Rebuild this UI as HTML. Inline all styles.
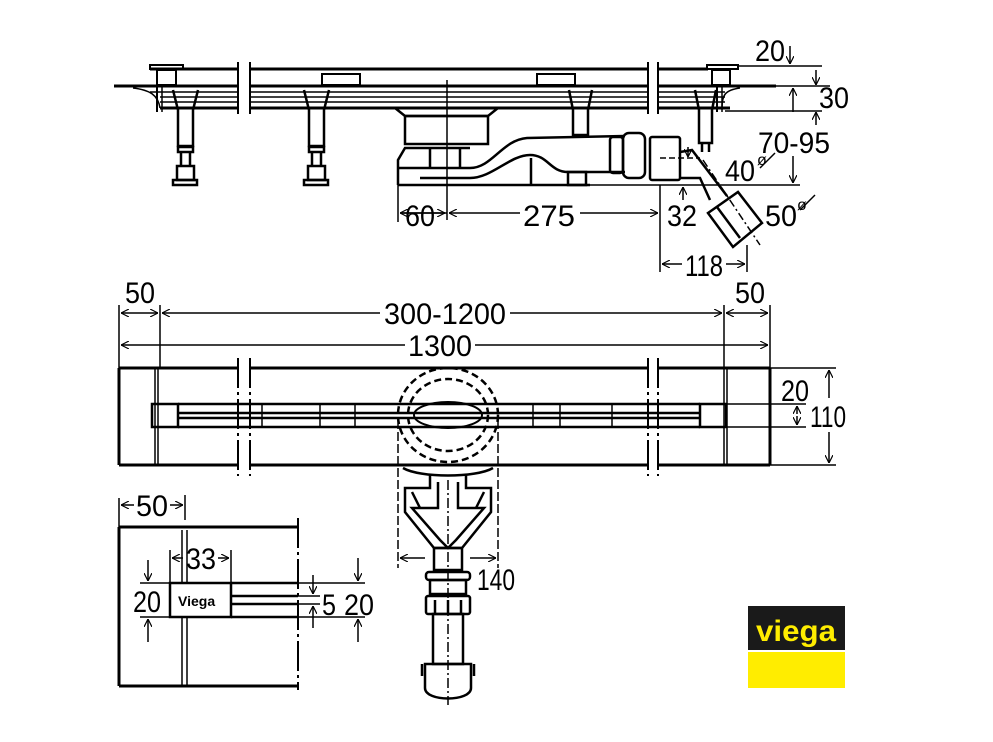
<!DOCTYPE html>
<html><head><meta charset="utf-8"><style>
html,body{margin:0;padding:0;background:#fff;}
svg{display:block;}
text{font-family:"Liberation Sans Narrow","Liberation Sans",sans-serif;font-size:30px;fill:#000;}
</style></head><body>
<svg width="993" height="742" viewBox="0 0 993 742" xmlns="http://www.w3.org/2000/svg">
<defs>
<marker id="a" viewBox="0 0 10 10" refX="10" refY="5" markerWidth="8" markerHeight="8" orient="auto-start-reverse" markerUnits="userSpaceOnUse">
<path d="M0,0 L10,5 L0,10" fill="none" stroke="#000" stroke-width="1.5"/></marker>
</defs>
<g fill="none" stroke="#000" stroke-width="1.5">
<!-- ===== TOP SIDE VIEW ===== -->
<g stroke-width="3">
<line x1="150" y1="69" x2="238" y2="69"/><line x1="250" y1="69" x2="648" y2="69"/><line x1="658" y1="69" x2="708" y2="69"/>
<line x1="114" y1="86" x2="238" y2="86"/><line x1="250" y1="86" x2="648" y2="86"/><line x1="658" y1="86" x2="776" y2="86"/>
<line x1="160" y1="108" x2="238" y2="108"/><line x1="250" y1="108" x2="648" y2="108"/><line x1="658" y1="108" x2="730" y2="108"/>
</g>
<line x1="150" y1="92" x2="238" y2="92"/><line x1="250" y1="92" x2="648" y2="92"/><line x1="658" y1="92" x2="725" y2="92"/>
<line x1="160" y1="97" x2="238" y2="97"/><line x1="250" y1="97" x2="648" y2="97"/><line x1="658" y1="97" x2="725" y2="97"/>
<line x1="160" y1="102" x2="238" y2="102"/><line x1="250" y1="102" x2="648" y2="102"/><line x1="658" y1="102" x2="725" y2="102"/>
<line x1="238" y1="62" x2="238" y2="114" stroke-width="2"/><line x1="250" y1="62" x2="250" y2="114" stroke-width="2"/>
<line x1="648" y1="62" x2="648" y2="114" stroke-width="2"/><line x1="658" y1="62" x2="658" y2="114" stroke-width="2"/>
<rect x="150" y="65" width="33" height="4" stroke-width="2"/><rect x="157" y="70" width="19" height="15" stroke-width="2"/>
<rect x="322" y="74" width="38" height="11" stroke-width="2"/>
<rect x="537" y="74" width="38" height="11" stroke-width="2"/>
<rect x="707" y="65" width="31" height="4" stroke-width="2"/><rect x="712" y="70" width="18" height="15" stroke-width="2"/>
<path d="M133,88 C150,90 158,95 160,108"/><path d="M740,88 C725,90 722,95 722,108"/>
<line x1="157" y1="86" x2="157" y2="112" stroke-width="2"/><line x1="162" y1="86" x2="162" y2="112"/>
<line x1="717" y1="86" x2="717" y2="112" stroke-width="2"/><line x1="722" y1="86" x2="722" y2="112"/>
<g stroke-width="2.5">
<path d="M173,90 L178,110 L178,146 L193,146 L193,110 L198,90"/><rect x="178" y="147" width="15" height="5"/><line x1="181" y1="152" x2="181" y2="166"/><line x1="190" y1="152" x2="190" y2="166"/><rect x="177" y="166" width="17" height="14"/><rect x="173" y="180" width="24" height="5"/>
<path d="M304,90 L309,110 L309,146 L324,146 L324,110 L329,90"/><rect x="309" y="147" width="15" height="5"/><line x1="312" y1="152" x2="312" y2="166"/><line x1="321" y1="152" x2="321" y2="166"/><rect x="308" y="166" width="17" height="14"/><rect x="304" y="180" width="24" height="5"/>
<path d="M569,90 L573,110 L573,135 L588,135 L588,110 L592,90"/>
<path d="M695,90 L699,110 L699,143 L712,143 L712,110 L716,90"/><line x1="702" y1="143" x2="702" y2="152"/><line x1="709" y1="143" x2="709" y2="152"/>
</g>
<g stroke-width="2.5">
<path d="M395,108 L405,116 L488,116 L498,108"/>
<rect x="405" y="116" width="83" height="28"/>
<path d="M398,185 L398,160 L405,148 L470,148"/>
<line x1="398" y1="185" x2="590" y2="185"/>
<path d="M398,168 L470,168 C492,168 502,140 527,138 L625,136"/>
<path d="M420,178 L470,178 C492,178 510,155 530,155 C548,155 550,172 568,172 L625,172"/>
<line x1="430" y1="148" x2="430" y2="168"/><line x1="460" y1="148" x2="460" y2="168"/><line x1="531" y1="158" x2="531" y2="185"/>
<rect x="568" y="172" width="18" height="13"/>
<rect x="610" y="137" width="13" height="36" rx="3"/>
<rect x="623" y="133" width="22" height="45" rx="6"/>
<rect x="650" y="137" width="30" height="43" rx="2"/>
<path d="M680,152 L692,150 L727,196"/><path d="M680,178 L700,178 L710,200"/>
<path d="M708,213 L738,192 L762,223 L733,247 Z"/>
<line x1="717" y1="207" x2="740" y2="238"/>
</g>
<line x1="447" y1="80" x2="447" y2="220"/>
<line x1="398" y1="185" x2="398" y2="222"/>
<line x1="660" y1="185" x2="660" y2="272"/>
<line x1="747" y1="245" x2="747" y2="272"/>
<line x1="660" y1="158" x2="700" y2="158" stroke-dasharray="6,3"/>
<line x1="703" y1="160" x2="760" y2="245" stroke-dasharray="8,3,2,3"/>
<line x1="738" y1="66" x2="822" y2="66"/><line x1="776" y1="86" x2="830" y2="86"/><line x1="725" y1="111" x2="822" y2="111"/>
<line x1="590" y1="185" x2="800" y2="185"/>
<line x1="790" y1="46" x2="790" y2="64" marker-end="url(#a)"/>
<line x1="816" y1="70" x2="816" y2="85" marker-end="url(#a)"/>
<line x1="816" y1="125" x2="816" y2="112" marker-end="url(#a)"/>
<line x1="793" y1="112" x2="793" y2="88" marker-end="url(#a)"/>
<line x1="793" y1="156" x2="793" y2="183" marker-end="url(#a)"/>
<line x1="683" y1="200" x2="683" y2="187" marker-end="url(#a)"/>
<line x1="688" y1="147" x2="688" y2="157" marker-end="url(#a)"/>
<line x1="760" y1="168" x2="775" y2="153"/><line x1="800" y1="210" x2="815" y2="195"/>
<line x1="447" y1="213" x2="400" y2="213" marker-end="url(#a)"/><line x1="402" y1="213" x2="445" y2="213" marker-end="url(#a)"/>
<line x1="449" y1="213" x2="520" y2="213" marker-start="url(#a)"/><line x1="580" y1="213" x2="658" y2="213" marker-end="url(#a)"/>
<line x1="662" y1="264" x2="682" y2="264" marker-start="url(#a)"/><line x1="726" y1="264" x2="745" y2="264" marker-end="url(#a)"/>

<!-- ===== MIDDLE PLAN ===== -->
<line x1="119" y1="305" x2="119" y2="368"/><line x1="160" y1="305" x2="160" y2="368"/>
<line x1="724" y1="305" x2="724" y2="368"/><line x1="770" y1="305" x2="770" y2="368"/>
<line x1="121" y1="313" x2="158" y2="313" marker-start="url(#a)" marker-end="url(#a)"/>
<line x1="162" y1="313" x2="380" y2="313" marker-start="url(#a)"/><line x1="510" y1="313" x2="722" y2="313" marker-end="url(#a)"/>
<line x1="726" y1="313" x2="768" y2="313" marker-start="url(#a)" marker-end="url(#a)"/>
<line x1="121" y1="345" x2="405" y2="345" marker-start="url(#a)"/><line x1="475" y1="345" x2="768" y2="345" marker-end="url(#a)"/>
<g stroke-width="3">
<line x1="119" y1="368" x2="238" y2="368"/><line x1="250" y1="368" x2="648" y2="368"/><line x1="658" y1="368" x2="770" y2="368"/>
<line x1="119" y1="465" x2="238" y2="465"/><line x1="250" y1="465" x2="648" y2="465"/><line x1="658" y1="465" x2="770" y2="465"/>
<line x1="119" y1="368" x2="119" y2="465"/><line x1="770" y1="368" x2="770" y2="465"/>
</g>
<line x1="155" y1="368" x2="155" y2="465"/><line x1="158" y1="368" x2="158" y2="465"/>
<line x1="724" y1="368" x2="724" y2="465"/><line x1="727" y1="368" x2="727" y2="465"/>
<g stroke-width="2">
<line x1="238" y1="358" x2="238" y2="476" stroke-dasharray="30,4,3,4"/><line x1="250" y1="358" x2="250" y2="476" stroke-dasharray="30,4,3,4"/>
<line x1="648" y1="358" x2="648" y2="476" stroke-dasharray="30,4,3,4"/><line x1="658" y1="358" x2="658" y2="476" stroke-dasharray="30,4,3,4"/></g>
<g stroke-width="2.5">
<rect x="152" y="404" width="26" height="23"/><rect x="700" y="404" width="26" height="23"/>
<line x1="178" y1="404" x2="700" y2="404"/><line x1="178" y1="427" x2="700" y2="427"/>
<line x1="178" y1="413" x2="700" y2="413"/><line x1="178" y1="418" x2="700" y2="418"/>
</g>
<line x1="262" y1="404" x2="262" y2="427"/><line x1="320" y1="404" x2="320" y2="427"/><line x1="355" y1="404" x2="355" y2="427"/><line x1="533" y1="404" x2="533" y2="427"/><line x1="560" y1="404" x2="560" y2="427"/><line x1="612" y1="404" x2="612" y2="427"/>
<ellipse cx="448" cy="415" rx="34" ry="13" stroke-width="2"/>
<ellipse cx="448" cy="415" rx="50" ry="47" stroke-dasharray="7,4" stroke-width="2.5"/>
<ellipse cx="448" cy="415" rx="40" ry="36" stroke-dasharray="7,4" stroke-width="2.5"/>
<line x1="398" y1="420" x2="398" y2="568" stroke-dasharray="9,3"/><line x1="498" y1="420" x2="498" y2="568" stroke-dasharray="9,3"/>
<g stroke-width="2.5">
<path d="M403,468 C420,478 476,478 493,468"/>
<path d="M430,475 L430,488 L405,488 L405,512 L434,548 L462,548 L491,512 L491,488 L466,488 L466,475"/>
<path d="M438,482 L438,508 L412,508 L440,540 L448,548 L456,540 L484,508 L458,508 L458,482"/>
<path d="M412,492 L420,508"/><path d="M484,492 L476,508"/>
<rect x="434" y="548" width="28" height="22"/>
<rect x="426" y="572" width="44" height="8" rx="3"/><rect x="430" y="580" width="36" height="14"/>
<rect x="426" y="596" width="44" height="18" rx="2"/>
<line x1="435" y1="600" x2="435" y2="614"/><line x1="448" y1="600" x2="448" y2="614"/><line x1="461" y1="600" x2="461" y2="614"/>
<rect x="433" y="614" width="30" height="50"/>
<path d="M425,664 L471,664 L471,688 C471,702 425,702 425,688 Z"/>
<line x1="422" y1="664" x2="422" y2="676"/><line x1="474" y1="664" x2="474" y2="676"/>
</g>
<line x1="448" y1="480" x2="448" y2="705" stroke-dasharray="10,3,2,3"/>
<line x1="400" y1="558" x2="425" y2="558" marker-start="url(#a)"/><line x1="470" y1="558" x2="496" y2="558" marker-end="url(#a)"/>
<line x1="770" y1="368" x2="836" y2="368"/><line x1="770" y1="465" x2="836" y2="465"/>
<line x1="726" y1="404" x2="806" y2="404"/><line x1="726" y1="427" x2="806" y2="427"/>
<line x1="797" y1="414" x2="797" y2="406" marker-end="url(#a)"/><line x1="797" y1="416" x2="797" y2="425" marker-end="url(#a)"/>
<line x1="829" y1="398" x2="829" y2="370" marker-end="url(#a)"/><line x1="829" y1="432" x2="829" y2="463" marker-end="url(#a)"/>

<!-- ===== DETAIL ===== -->
<line x1="119" y1="498" x2="119" y2="527"/><line x1="185" y1="495" x2="185" y2="520"/>
<line x1="121" y1="505" x2="134" y2="505" marker-start="url(#a)"/><line x1="170" y1="505" x2="183" y2="505" marker-end="url(#a)"/>
<g stroke-width="3"><line x1="119" y1="527" x2="298" y2="527"/><line x1="119" y1="527" x2="119" y2="686"/><line x1="119" y1="686" x2="298" y2="686"/></g>
<line x1="298" y1="518" x2="298" y2="690" stroke-dasharray="30,4,3,4" stroke-width="2"/>
<line x1="182" y1="530" x2="182" y2="686"/><line x1="187" y1="530" x2="187" y2="686"/>
<rect x="170" y="583" width="61" height="34" fill="#fff" stroke-width="2.5"/>
<g stroke-width="2.5"><line x1="231" y1="583" x2="298" y2="583"/><line x1="231" y1="617" x2="298" y2="617"/><line x1="231" y1="596" x2="298" y2="596"/><line x1="231" y1="604" x2="298" y2="604"/></g>
<line x1="298" y1="583" x2="365" y2="583"/><line x1="298" y1="617" x2="365" y2="617"/>
<line x1="298" y1="596" x2="320" y2="596"/><line x1="298" y1="604" x2="320" y2="604"/>
<line x1="140" y1="583" x2="170" y2="583"/><line x1="140" y1="617" x2="170" y2="617"/>
<line x1="170" y1="550" x2="170" y2="583"/><line x1="231" y1="550" x2="231" y2="583"/>
<line x1="172" y1="558" x2="183" y2="558" marker-start="url(#a)"/><line x1="218" y1="558" x2="229" y2="558" marker-end="url(#a)"/>
<line x1="148" y1="560" x2="148" y2="581" marker-end="url(#a)"/><line x1="148" y1="642" x2="148" y2="619" marker-end="url(#a)"/>
<line x1="313" y1="575" x2="313" y2="594" marker-end="url(#a)"/><line x1="313" y1="628" x2="313" y2="606" marker-end="url(#a)"/>
<line x1="358" y1="558" x2="358" y2="581" marker-end="url(#a)"/><line x1="358" y1="642" x2="358" y2="619" marker-end="url(#a)"/>
</g>
<text x="755" y="61" textLength="30" lengthAdjust="spacingAndGlyphs">20</text>
<text x="819" y="108" textLength="30" lengthAdjust="spacingAndGlyphs">30</text>
<text x="758" y="153" textLength="72" lengthAdjust="spacingAndGlyphs">70-95</text>
<text x="725" y="181" textLength="30" lengthAdjust="spacingAndGlyphs">40</text>
<text x="757" y="165" style="font-size:16px">ø</text>
<text x="667" y="226" textLength="30" lengthAdjust="spacingAndGlyphs">32</text>
<text x="765" y="226" textLength="32" lengthAdjust="spacingAndGlyphs">50</text>
<text x="797" y="210" style="font-size:16px">ø</text>
<text x="405" y="226" textLength="30" lengthAdjust="spacingAndGlyphs">60</text>
<text x="523" y="226" textLength="52" lengthAdjust="spacingAndGlyphs">275</text>
<text x="685" y="276" textLength="38" lengthAdjust="spacingAndGlyphs">118</text>
<text x="125" y="303" textLength="30" lengthAdjust="spacingAndGlyphs">50</text>
<text x="384" y="324" textLength="122" lengthAdjust="spacingAndGlyphs">300-1200</text>
<text x="735" y="303" textLength="30" lengthAdjust="spacingAndGlyphs">50</text>
<text x="408" y="356" textLength="64" lengthAdjust="spacingAndGlyphs">1300</text>
<text x="781" y="401" textLength="28" lengthAdjust="spacingAndGlyphs">20</text>
<text x="810" y="427" textLength="36" lengthAdjust="spacingAndGlyphs">110</text>
<text x="136" y="516" textLength="32" lengthAdjust="spacingAndGlyphs">50</text>
<text x="186" y="569" textLength="30" lengthAdjust="spacingAndGlyphs">33</text>
<text x="133" y="612" textLength="28" lengthAdjust="spacingAndGlyphs">20</text>
<text x="178" y="606" style="font-family:'Liberation Sans',sans-serif;font-size:14px;font-weight:bold">Viega</text>
<text x="322" y="615" textLength="14" lengthAdjust="spacingAndGlyphs">5</text>
<text x="344" y="615" textLength="30" lengthAdjust="spacingAndGlyphs">20</text>
<text x="477" y="590" textLength="38" lengthAdjust="spacingAndGlyphs">140</text>
<rect x="748" y="606" width="97" height="44" fill="#1a1a1a"/>
<rect x="748" y="652" width="97" height="36" fill="#ffed00"/>
<text x="756" y="641" style="font-family:'Liberation Sans',sans-serif;font-size:30px;font-weight:bold;fill:#ffed00" textLength="80" lengthAdjust="spacingAndGlyphs">viega</text>
</svg>
</body></html>
